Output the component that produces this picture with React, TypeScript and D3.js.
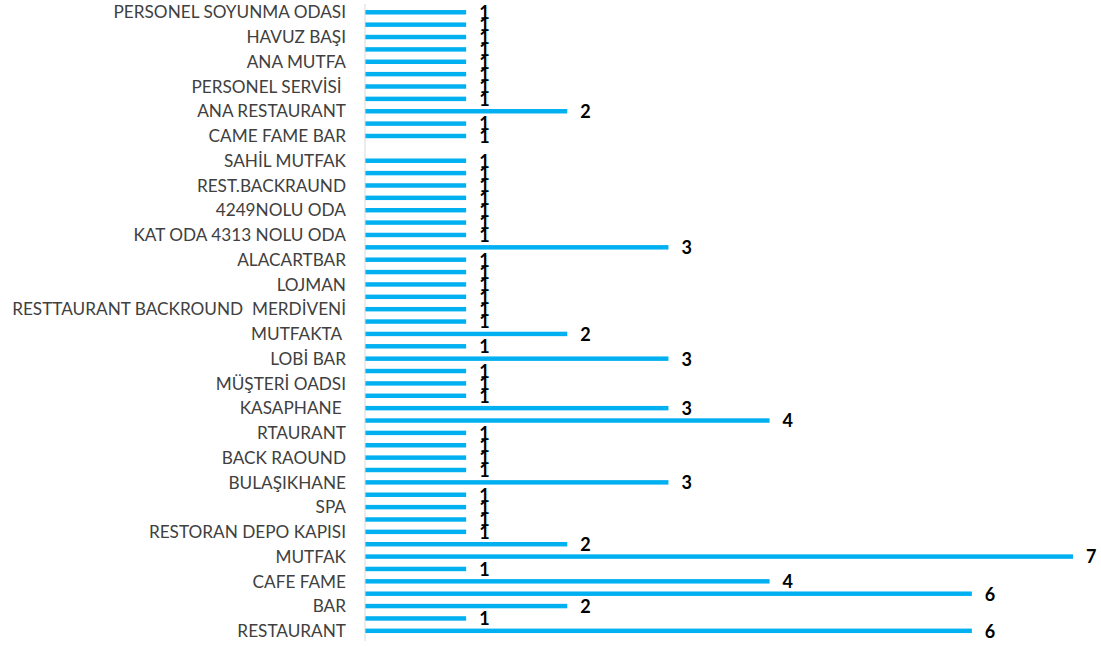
import React from "react";
import * as d3 from "d3";

// Categories listed from the bottom of the chart (first) to the top (last).
// Only every second category label is shown in the source; unlabeled ones are "".
const categories: string[] = [
  "RESTAURANT", "", "BAR", "", "CAFE FAME", "", "MUTFAK", "",
  "RESTORAN DEPO KAPISI", "", "SPA", "", "BULAŞIKHANE", "", "BACK RAOUND", "",
  "RTAURANT", "", "KASAPHANE ", "", "MÜŞTERİ OADSI", "", "LOBİ BAR", "",
  "MUTFAKTA ", "", "RESTTAURANT BACKROUND  MERDİVENİ", "", "LOJMAN", "",
  "ALACARTBAR", "", "KAT ODA 4313 NOLU ODA", "", "4249NOLU ODA", "",
  "REST.BACKRAUND", "", "SAHİL MUTFAK", "", "CAME FAME BAR", "",
  "ANA RESTAURANT", "", "PERSONEL SERVİSİ ", "", "ANA MUTFA", "",
  "HAVUZ BAŞI", "", "PERSONEL SOYUNMA ODASI",
];

const values: (number | null)[] = [
  6, 1, 2, 6, 4, 1, 7, 2,
  1, 1, 1, 1, 3, 1, 1, 1,
  1, 4, 3, 1, 1, 1, 3, 1,
  2, 1, 1, 1, 1, 1,
  1, 3, 1, 1, 1, 1,
  1, 1, 1, null, 1, 1,
  2, 1, 1, 1, 1, 1,
  1, 1, 1,
];

const W = 1101;
const H = 647;

export default function App() {
  const idx = categories.map((_, i) => i);
  const y = d3
    .scaleBand<number>()
    .domain(idx.slice().reverse())
    .range([6.1, 637])
    .paddingInner(0.64)
    .paddingOuter(0.32);
  const x = d3.scaleLinear().domain([0, 7]).range([365, 1073]);
  const cy = (i: number) => (y(i) as number) + y.bandwidth() / 2;

  return (
    <svg
      width={W}
      height={H}
      style={{ position: "absolute", left: 0, top: 0, background: "#fff" }}
    >
      <rect width={W} height={H} fill="#fff" />
      {idx.map((i) =>
        values[i] == null ? null : (
          <rect
            key={"b" + i}
            x={x(0)}
            y={y(i)}
            width={x(values[i] as number) - x(0)}
            height={y.bandwidth()}
            fill="#00B0F0"
          />
        )
      )}
      <line x1={x(0)} x2={x(0)} y1={4} y2={641} stroke="#D9D9D9" strokeWidth={1} />
      {idx.map((i) =>
        categories[i] ? (
          <text
            key={"c" + i}
            x={346}
            y={cy(i)}
            dy="0.36em"
            textAnchor="end"
            fontFamily="Lato, sans-serif"
            fontSize={17.2}
            fill="#404040"
            style={{ whiteSpace: "pre" }}
          >
            {categories[i]}
          </text>
        ) : null
      )}
      {idx.map((i) =>
        values[i] == null ? null : (
          <text
            key={"v" + i}
            x={x(values[i] as number) + 13}
            y={cy(i)}
            dy="0.38em"
            textAnchor="start"
            fontFamily="Lato, sans-serif"
            fontWeight="bold"
            fontSize={18}
            fill="#000"
          >
            {values[i]}
          </text>
        )
      )}
    </svg>
  );
}
